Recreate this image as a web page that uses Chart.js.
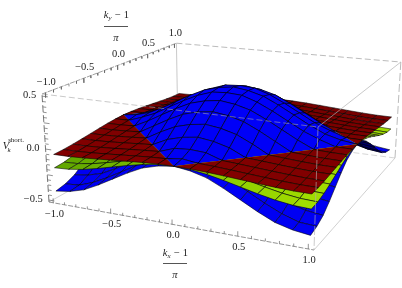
<!DOCTYPE html>
<html><head><meta charset="utf-8">
<style>html,body{margin:0;padding:0;background:#fff}canvas{display:block}</style>
<script src="https://cdn.jsdelivr.net/npm/chart.js@4"></script>
</head><body><canvas id="c" width="402" height="288"></canvas>
<script>
const kGrid=[-1,-.875,-.75,-.625,-.5,-.375,-.25,-.125,0,.125,.25,.375,.5,.625,.75,.875,1];
const tickValues=[-1,-.5,0,.5,1];
const tickLabels=['\u22121.0','\u22120.5','0.0','0.5','1.0'];
const zTickValues=[-.5,0,.5];
const zTickLabels=['\u22120.5','0.0','0.5'];

const b0=[-.42,-.40,-.36,-.29,-.21,-.13,-.06,-.02,0,-.02,-.06,-.13,-.21,-.29,-.36,-.40,-.42];
const b1=[-.40,-.39,-.34,-.27,-.19,-.11,-.05,0,.02,0,-.05,-.11,-.19,-.27,-.34,-.39,-.40];
const b2=[-.36,-.34,-.30,-.23,-.15,-.07,0,.05,.06,.05,0,-.07,-.15,-.23,-.30,-.34,-.36];
const b3=[-.29,-.27,-.23,-.16,-.08,0,.07,.11,.13,.11,.07,0,-.08,-.16,-.23,-.27,-.29];
const b4=[-.21,-.19,-.15,-.08,0,.08,.15,.19,.21,.19,.15,.08,0,-.08,-.15,-.19,-.21];
const b5=[-.13,-.11,-.07,0,.08,.16,.23,.27,.29,.27,.23,.16,.08,0,-.07,-.11,-.13];
const b6=[-.06,-.05,0,.07,.15,.23,.30,.34,.36,.34,.30,.23,.15,.07,0,-.05,-.06];
const b7=[-.02,0,.05,.11,.19,.27,.34,.39,.40,.39,.34,.27,.19,.11,.05,0,-.02];
const b8=[0,.02,.06,.13,.21,.29,.36,.40,.42,.40,.36,.29,.21,.13,.06,.02,0];
const blueZ=[b0,b1,b2,b3,b4,b5,b6,b7,b8,b7,b6,b5,b4,b3,b2,b1,b0];

const g0=[-.19,-.183,-.162,-.131,-.095,-.059,-.028,-.007,0,-.007,-.028,-.059,-.095,-.131,-.162,-.183,-.19];
const g1=[-.183,-.176,-.155,-.124,-.088,-.052,-.021,0,.007,0,-.021,-.052,-.088,-.124,-.155,-.176,-.183];
const g2=[-.162,-.155,-.134,-.103,-.067,-.031,0,.021,.028,.021,0,-.031,-.067,-.103,-.134,-.155,-.162];
const g3=[-.131,-.124,-.103,-.072,-.036,0,.031,.052,.059,.052,.031,0,-.036,-.072,-.103,-.124,-.131];
const g4=[-.095,-.088,-.067,-.036,0,.036,.067,.088,.095,.088,.067,.036,0,-.036,-.067,-.088,-.095];
const g5=[-.059,-.052,-.031,0,.036,.072,.103,.124,.131,.124,.103,.072,.036,0,-.031,-.052,-.059];
const g6=[-.028,-.021,0,.031,.067,.103,.134,.155,.162,.155,.134,.103,.067,.031,0,-.021,-.028];
const g7=[-.007,0,.021,.052,.088,.124,.155,.176,.183,.176,.155,.124,.088,.052,.021,0,-.007];
const g8=[0,.007,.028,.059,.095,.131,.162,.183,.19,.183,.162,.131,.095,.059,.028,.007,0];
const greenZ=[g0,g1,g2,g3,g4,g5,g6,g7,g8,g7,g6,g5,g4,g3,g2,g1,g0];

const r0=[-.06,-.058,-.051,-.041,-.03,-.019,-.009,-.002,0,-.002,-.009,-.019,-.03,-.041,-.051,-.058,-.06];
const r1=[-.058,-.056,-.049,-.039,-.028,-.017,-.007,0,.002,0,-.007,-.017,-.028,-.039,-.049,-.056,-.058];
const r2=[-.051,-.049,-.042,-.032,-.021,-.01,0,.007,.009,.007,0,-.01,-.021,-.032,-.042,-.049,-.051];
const r3=[-.041,-.039,-.032,-.022,-.011,0,.01,.017,.019,.017,.01,0,-.011,-.022,-.032,-.039,-.041];
const r4=[-.03,-.028,-.021,-.011,0,.011,.021,.028,.03,.028,.021,.011,0,-.011,-.021,-.028,-.03];
const r5=[-.019,-.017,-.01,0,.011,.022,.032,.039,.041,.039,.032,.022,.011,0,-.01,-.017,-.019];
const r6=[-.009,-.007,0,.01,.021,.032,.042,.049,.051,.049,.042,.032,.021,.01,0,-.007,-.009];
const r7=[-.002,0,.007,.017,.028,.039,.049,.056,.058,.056,.049,.039,.028,.017,.007,0,-.002];
const r8=[0,.002,.009,.019,.03,.041,.051,.058,.06,.058,.051,.041,.03,.019,.009,.002,0];
const redZ=[r0,r1,r2,r3,r4,r5,r6,r7,r8,r7,r6,r5,r4,r3,r2,r1,r0];

// camera: perspective map of the plot box onto the x/y scales
const O=[49,202,1],Vs=[223.55,15,-.132],Vt=[176.96,-37.2,.27],Vr=[-8.6,-111.57,-.038];
const XR=1.04,ZR=.52;
function proj(kx,ky,z){
  const s=(kx+XR)/(2*XR),t=(ky+XR)/(2*XR),r=(z+ZR)/(2*ZR);
  const h=[0,1,2].map(i=>O[i]+s*Vs[i]+t*Vt[i]+r*Vr[i]);
  return {x:h[0]/h[2],y:h[1]/h[2],w:h[2]};
}
const P=(a,b,c)=>{const p=proj(a,b,c);return {x:p.x,y:p.y};};
const datasets=[];
function poly(points,opt){
  return Object.assign({data:points,showLine:true,pointRadius:0,pointHoverRadius:0,tension:0,fill:false,borderWidth:1,borderColor:'#000'},opt);
}
function surfaceCells(Z,colorFn){
  const out=[];
  const n=kGrid.length-1;
  for(let i=0;i<n;i++)for(let j=0;j<n;j++){
    const a={kx:kGrid[i],ky:kGrid[j],z:Z[i][j],d:Math.abs(i-8)+Math.abs(j-8)};
    const b={kx:kGrid[i+1],ky:kGrid[j],z:Z[i+1][j],d:Math.abs(i-7)+Math.abs(j-8)};
    const c={kx:kGrid[i+1],ky:kGrid[j+1],z:Z[i+1][j+1],d:Math.abs(i-7)+Math.abs(j-7)};
    const e={kx:kGrid[i],ky:kGrid[j+1],z:Z[i][j+1],d:Math.abs(i-8)+Math.abs(j-7)};
    let pieces;
    if(a.d===8&&c.d===8)pieces=[[a,b,c],[c,e,a]];
    else if(b.d===8&&e.d===8)pieces=[[b,c,e],[e,a,b]];
    else pieces=[[a,b,c,e,a]];
    for(const q of pieces){
      const pts=q.map(v=>proj(v.kx,v.ky,v.z));
      let area=0;const m=pts.length;
      for(let k=0;k<m;k++){const u=pts[k],v=pts[(k+1)%m];area+=u.x*v.y-v.x*u.y;}
      const depth=pts.reduce((t,p)=>t+p.w,0)/m;
      const col=colorFn(q,area);
      out.push({depth,ds:poly(pts.map(p=>({x:p.x,y:p.y})),{fill:'shape',backgroundColor:col,borderColor:'rgba(0,0,0,.85)',borderWidth:.65,borderJoinStyle:'round'})});
    }
  }
  return out;
}
const blueCol=(q,area)=>area>0?'rgb(0,0,105)':'rgb(0,0,'+Math.round(246+8*q[0].z)+')';
const greenCol=(q,area)=>{const s=(q[0].kx+1)/2;return area>0?'rgb(70,110,0)':'rgb('+Math.round(98+66*s)+','+Math.round(168+56*s)+',0)';};
const redCol=(q,area)=>area>0?'rgb(70,0,0)':'rgb('+Math.round(118+12*(1-(q[0].ky+1)/2))+',0,0)';
const cells=[...surfaceCells(blueZ,blueCol),...surfaceCells(greenZ,greenCol),...surfaceCells(redZ,redCol)];
cells.sort((u,v)=>u.depth-v.depth);

// box edges
const c=(sx,sy,sz)=>P(sx*XR,sy*XR,sz*ZR);
const edge=(p,q,col,dash,w)=>poly([p,q],{borderColor:col,borderDash:dash||[],borderWidth:w||.8});
const front=[
 edge(c(-1,-1,1),c(1,-1,1),'rgba(165,165,165,.75)',[6,3]),
 edge(c(1,-1,1),c(1,-1,-1),'rgba(175,175,175,.8)',[9,2]),
 edge(c(1,-1,1),c(1,1,1),'rgba(175,175,175,.85)',[]),
 edge(c(-1,1,1),c(1,1,1),'#aaa',[6,3]),
 edge(c(-1,-1,1),c(-1,1,1),'#888',[5,1]),
 edge(c(-1,-1,-1),c(1,-1,-1),'#777',[5,1.5]),
 edge(c(-1,-1,-1),c(-1,-1,1),'#666',[7,3],.9)
];
const back=[
 edge(c(1,1,1),c(1,1,-1),'#aaa',[8,3]),
 edge(c(1,1,-1),c(1,-1,-1),'#c4c4c4',[]),
 edge(c(-1,-1,-1),c(-1,1,-1),'#c4c4c4',[]),
 edge(c(-1,1,1),c(-1,1,-1),'#bbb',[]),
 edge(c(1,1,-1),c(-1,1,-1),'#ccc',[6,3])
];
// tick marks
function ticks(fn){
  const pts=[];
  for(let k=-10;k<=10;k++){
    const v=k/10,major=k%5===0;
    const [p,q]=fn(v,major);
    pts.push(p,q,{x:NaN,y:NaN});
  }
  return poly(pts,{borderColor:'#666',borderWidth:.7});
}
const tickSets=[
 ticks((v,m)=>[P(v,-XR,-ZR),P(v,-XR,-ZR+(m?.045:.025))]),
 ticks((v,m)=>[P(-XR,v,ZR),P(-XR,v,ZR-(m?.045:.025))]),
 ticks((v,m)=>[P(-XR,-XR,v/2),P(-XR+(m?.05:.03),-XR,v/2)])
];
datasets.push(...tickSets,...front,...cells.map(o=>o.ds),...back);

const SERIF="'Liberation Serif','Times New Roman',serif";
const textPlugin={id:'axisText',afterDraw(ch){
  const g=ch.ctx,X=ch.scales.x,Y=ch.scales.y;
  const T=(str,p,dx,dy,align,font)=>{
    g.font=font||('10.5px '+SERIF);g.fillStyle='#222';g.textAlign=align||'center';g.textBaseline='middle';
    g.fillText(str,X.getPixelForValue(p.x)+dx,Y.getPixelForValue(p.y)+dy);
  };
  const at=(x,y)=>({x,y});
  tickValues.forEach((v,i)=>T(tickLabels[i],P(v,-XR,-ZR),1,11));
  tickValues.forEach((v,i)=>T(tickLabels[i],P(-XR,v,ZR),1,-11));
  zTickValues.forEach((v,i)=>T(zTickLabels[i],P(-XR,-XR,v),-6,-1,'right'));
  const frac=(cx,top,sub,rule,pi)=>{
    const it='italic 10.5px '+SERIF,sm='italic 7px '+SERIF;
    T('k',at(cx-10,top),0,0,'center',it);
    T(sub,at(cx-6,top+3),0,0,'center',sm);
    T('\u2212 1',at(cx+6,top),0,0,'center');
    g.strokeStyle='#555';g.lineWidth=1;g.beginPath();
    g.moveTo(X.getPixelForValue(cx-12),Y.getPixelForValue(rule)+.5);
    g.lineTo(X.getPixelForValue(cx+12),Y.getPixelForValue(rule)+.5);g.stroke();
    T('\u03c0',at(cx,pi),0,0,'center',it);
  };
  frac(116,15,'y',26,38);
  frac(175,253,'x',263,275);
  T('V',at(6,146),0,0,'center','italic 10.5px '+SERIF);
  T('k',at(9,150),0,0,'center','italic 7px '+SERIF);
  T('short.',at(16,140),0,0,'center','7px '+SERIF);
}};
new Chart(document.getElementById('c'),{
  type:'scatter',
  data:{datasets},
  options:{animation:false,responsive:false,events:[],layout:{padding:0},
    plugins:{legend:{display:false},tooltip:{enabled:false},title:{display:false}},
    scales:{x:{type:'linear',min:0,max:402,display:false},y:{type:'linear',min:0,max:288,reverse:true,display:false}}},
  plugins:[textPlugin]
});
</script></body></html>
